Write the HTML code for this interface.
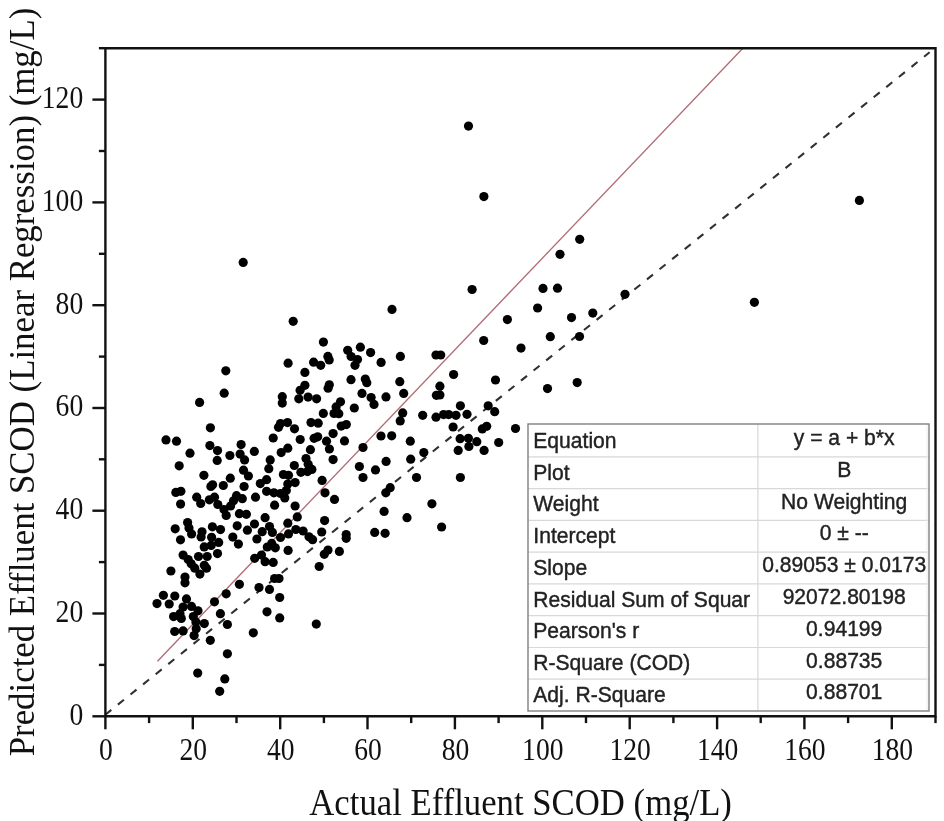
<!DOCTYPE html>
<html><head><meta charset="utf-8"><style>
html,body{margin:0;padding:0;background:#fff;width:944px;height:821px;overflow:hidden}
svg{display:block;filter:blur(0.45px)}
</style></head><body>
<svg width="944" height="821" viewBox="0 0 944 821">
<rect width="944" height="821" fill="#fff"/>
<line x1="105.3" y1="714.7" x2="929.6" y2="52.3" stroke="#303030" stroke-width="2.1" stroke-dasharray="7.7 8.46"/>
<line x1="157.5" y1="661.2" x2="742.6" y2="48.5" stroke="#b06c72" stroke-width="1.3"/>
<circle cx="468.5" cy="126.1" r="4.6"/>
<circle cx="483.9" cy="196.6" r="4.6"/>
<circle cx="859.4" cy="200.4" r="4.6"/>
<circle cx="243.2" cy="262.4" r="4.6"/>
<circle cx="579.7" cy="239.3" r="4.6"/>
<circle cx="560.0" cy="254.3" r="4.6"/>
<circle cx="472.1" cy="289.5" r="4.6"/>
<circle cx="543.0" cy="288.4" r="4.6"/>
<circle cx="557.5" cy="288.2" r="4.6"/>
<circle cx="625.0" cy="294.3" r="4.6"/>
<circle cx="754.4" cy="302.3" r="4.6"/>
<circle cx="537.6" cy="308.0" r="4.6"/>
<circle cx="507.4" cy="319.6" r="4.6"/>
<circle cx="571.5" cy="317.6" r="4.6"/>
<circle cx="592.8" cy="313.1" r="4.6"/>
<circle cx="483.7" cy="340.5" r="4.6"/>
<circle cx="550.3" cy="336.7" r="4.6"/>
<circle cx="579.5" cy="336.5" r="4.6"/>
<circle cx="521.0" cy="348.1" r="4.6"/>
<circle cx="495.5" cy="380.0" r="4.6"/>
<circle cx="547.5" cy="388.6" r="4.6"/>
<circle cx="577.2" cy="382.6" r="4.6"/>
<circle cx="392.0" cy="309.4" r="4.6"/>
<circle cx="293.2" cy="321.3" r="4.6"/>
<circle cx="288.1" cy="363.2" r="4.6"/>
<circle cx="225.8" cy="370.8" r="4.6"/>
<circle cx="224.2" cy="393.2" r="4.6"/>
<circle cx="199.6" cy="402.4" r="4.6"/>
<circle cx="282.3" cy="396.7" r="4.6"/>
<circle cx="282.3" cy="403.1" r="4.6"/>
<circle cx="323.4" cy="342.1" r="4.6"/>
<circle cx="360.4" cy="347.2" r="4.6"/>
<circle cx="347.7" cy="350.3" r="4.6"/>
<circle cx="370.6" cy="352.6" r="4.6"/>
<circle cx="327.9" cy="356.4" r="4.6"/>
<circle cx="329.2" cy="359.9" r="4.6"/>
<circle cx="351.1" cy="356.5" r="4.6"/>
<circle cx="357.5" cy="359.5" r="4.6"/>
<circle cx="313.6" cy="362.2" r="4.6"/>
<circle cx="320.7" cy="365.3" r="4.6"/>
<circle cx="355.0" cy="365.3" r="4.6"/>
<circle cx="381.1" cy="362.4" r="4.6"/>
<circle cx="400.4" cy="356.4" r="4.6"/>
<circle cx="436.0" cy="355.0" r="4.6"/>
<circle cx="440.7" cy="355.0" r="4.6"/>
<circle cx="304.9" cy="372.4" r="4.6"/>
<circle cx="453.6" cy="374.5" r="4.6"/>
<circle cx="351.0" cy="379.7" r="4.6"/>
<circle cx="365.3" cy="379.0" r="4.6"/>
<circle cx="366.8" cy="382.7" r="4.6"/>
<circle cx="399.8" cy="381.7" r="4.6"/>
<circle cx="329.3" cy="384.8" r="4.6"/>
<circle cx="328.1" cy="388.2" r="4.6"/>
<circle cx="304.9" cy="385.3" r="4.6"/>
<circle cx="300.1" cy="390.3" r="4.6"/>
<circle cx="298.8" cy="398.8" r="4.6"/>
<circle cx="308.1" cy="397.1" r="4.6"/>
<circle cx="316.6" cy="398.8" r="4.6"/>
<circle cx="439.9" cy="386.2" r="4.6"/>
<circle cx="439.9" cy="394.9" r="4.6"/>
<circle cx="436.4" cy="395.3" r="4.6"/>
<circle cx="362.0" cy="393.4" r="4.6"/>
<circle cx="403.7" cy="393.4" r="4.6"/>
<circle cx="371.1" cy="397.5" r="4.6"/>
<circle cx="386.0" cy="396.9" r="4.6"/>
<circle cx="340.5" cy="401.8" r="4.6"/>
<circle cx="210.4" cy="427.8" r="4.6"/>
<circle cx="166.0" cy="439.9" r="4.6"/>
<circle cx="176.5" cy="441.2" r="4.6"/>
<circle cx="209.9" cy="445.6" r="4.6"/>
<circle cx="217.5" cy="450.6" r="4.6"/>
<circle cx="190.0" cy="453.2" r="4.6"/>
<circle cx="217.2" cy="460.4" r="4.6"/>
<circle cx="229.9" cy="455.5" r="4.6"/>
<circle cx="241.1" cy="444.6" r="4.6"/>
<circle cx="240.1" cy="454.1" r="4.6"/>
<circle cx="244.6" cy="459.9" r="4.6"/>
<circle cx="254.3" cy="451.4" r="4.6"/>
<circle cx="179.2" cy="465.8" r="4.6"/>
<circle cx="203.9" cy="475.3" r="4.6"/>
<circle cx="243.5" cy="470.2" r="4.6"/>
<circle cx="248.4" cy="476.0" r="4.6"/>
<circle cx="230.3" cy="478.2" r="4.6"/>
<circle cx="212.6" cy="484.8" r="4.6"/>
<circle cx="210.9" cy="486.5" r="4.6"/>
<circle cx="223.3" cy="485.5" r="4.6"/>
<circle cx="244.1" cy="486.5" r="4.6"/>
<circle cx="260.3" cy="483.6" r="4.6"/>
<circle cx="175.8" cy="492.4" r="4.6"/>
<circle cx="180.9" cy="491.3" r="4.6"/>
<circle cx="180.6" cy="504.1" r="4.6"/>
<circle cx="196.7" cy="497.2" r="4.6"/>
<circle cx="200.7" cy="503.5" r="4.6"/>
<circle cx="209.4" cy="499.8" r="4.6"/>
<circle cx="214.5" cy="497.2" r="4.6"/>
<circle cx="217.8" cy="504.5" r="4.6"/>
<circle cx="224.0" cy="509.6" r="4.6"/>
<circle cx="226.2" cy="515.5" r="4.6"/>
<circle cx="230.6" cy="506.0" r="4.6"/>
<circle cx="233.5" cy="500.8" r="4.6"/>
<circle cx="236.5" cy="495.7" r="4.6"/>
<circle cx="242.3" cy="498.7" r="4.6"/>
<circle cx="255.5" cy="497.2" r="4.6"/>
<circle cx="239.4" cy="513.7" r="4.6"/>
<circle cx="246.4" cy="514.3" r="4.6"/>
<circle cx="187.6" cy="522.5" r="4.6"/>
<circle cx="336.1" cy="406.9" r="4.6"/>
<circle cx="334.0" cy="413.5" r="4.6"/>
<circle cx="338.8" cy="413.7" r="4.6"/>
<circle cx="323.3" cy="413.4" r="4.6"/>
<circle cx="354.3" cy="408.0" r="4.6"/>
<circle cx="374.0" cy="404.4" r="4.6"/>
<circle cx="280.5" cy="423.5" r="4.6"/>
<circle cx="287.5" cy="422.6" r="4.6"/>
<circle cx="278.5" cy="427.3" r="4.6"/>
<circle cx="294.5" cy="428.8" r="4.6"/>
<circle cx="311.0" cy="422.6" r="4.6"/>
<circle cx="318.2" cy="423.2" r="4.6"/>
<circle cx="341.2" cy="426.1" r="4.6"/>
<circle cx="346.3" cy="424.6" r="4.6"/>
<circle cx="273.2" cy="438.0" r="4.6"/>
<circle cx="300.2" cy="439.5" r="4.6"/>
<circle cx="314.1" cy="438.3" r="4.6"/>
<circle cx="317.7" cy="436.8" r="4.6"/>
<circle cx="333.1" cy="433.6" r="4.6"/>
<circle cx="326.5" cy="441.2" r="4.6"/>
<circle cx="344.5" cy="440.9" r="4.6"/>
<circle cx="381.0" cy="436.0" r="4.6"/>
<circle cx="287.8" cy="448.2" r="4.6"/>
<circle cx="281.2" cy="452.6" r="4.6"/>
<circle cx="310.4" cy="449.7" r="4.6"/>
<circle cx="329.4" cy="449.0" r="4.6"/>
<circle cx="333.1" cy="459.6" r="4.6"/>
<circle cx="363.0" cy="447.5" r="4.6"/>
<circle cx="270.2" cy="459.9" r="4.6"/>
<circle cx="306.0" cy="458.5" r="4.6"/>
<circle cx="268.8" cy="468.7" r="4.6"/>
<circle cx="294.3" cy="465.5" r="4.6"/>
<circle cx="308.2" cy="464.3" r="4.6"/>
<circle cx="311.9" cy="469.4" r="4.6"/>
<circle cx="300.9" cy="472.3" r="4.6"/>
<circle cx="307.5" cy="471.6" r="4.6"/>
<circle cx="359.4" cy="466.5" r="4.6"/>
<circle cx="375.5" cy="469.9" r="4.6"/>
<circle cx="363.0" cy="477.5" r="4.6"/>
<circle cx="283.4" cy="474.5" r="4.6"/>
<circle cx="288.5" cy="475.3" r="4.6"/>
<circle cx="266.6" cy="479.7" r="4.6"/>
<circle cx="295.1" cy="482.6" r="4.6"/>
<circle cx="287.8" cy="484.0" r="4.6"/>
<circle cx="322.1" cy="480.4" r="4.6"/>
<circle cx="266.6" cy="491.3" r="4.6"/>
<circle cx="273.9" cy="492.8" r="4.6"/>
<circle cx="280.5" cy="493.5" r="4.6"/>
<circle cx="286.3" cy="490.6" r="4.6"/>
<circle cx="284.8" cy="497.9" r="4.6"/>
<circle cx="325.0" cy="492.8" r="4.6"/>
<circle cx="334.5" cy="499.4" r="4.6"/>
<circle cx="274.6" cy="505.2" r="4.6"/>
<circle cx="295.1" cy="506.0" r="4.6"/>
<circle cx="297.3" cy="516.9" r="4.6"/>
<circle cx="265.1" cy="517.7" r="4.6"/>
<circle cx="324.6" cy="520.6" r="4.6"/>
<circle cx="402.7" cy="412.9" r="4.6"/>
<circle cx="400.2" cy="420.9" r="4.6"/>
<circle cx="422.7" cy="415.3" r="4.6"/>
<circle cx="436.0" cy="417.2" r="4.6"/>
<circle cx="443.6" cy="414.6" r="4.6"/>
<circle cx="448.7" cy="414.6" r="4.6"/>
<circle cx="456.0" cy="415.3" r="4.6"/>
<circle cx="460.4" cy="405.8" r="4.6"/>
<circle cx="467.0" cy="414.3" r="4.6"/>
<circle cx="488.2" cy="405.8" r="4.6"/>
<circle cx="494.7" cy="411.7" r="4.6"/>
<circle cx="453.1" cy="427.0" r="4.6"/>
<circle cx="482.3" cy="428.9" r="4.6"/>
<circle cx="486.7" cy="426.3" r="4.6"/>
<circle cx="391.7" cy="435.8" r="4.6"/>
<circle cx="410.3" cy="441.2" r="4.6"/>
<circle cx="460.1" cy="438.7" r="4.6"/>
<circle cx="468.4" cy="438.3" r="4.6"/>
<circle cx="468.9" cy="446.5" r="4.6"/>
<circle cx="476.8" cy="441.7" r="4.6"/>
<circle cx="458.2" cy="450.4" r="4.6"/>
<circle cx="484.1" cy="450.4" r="4.6"/>
<circle cx="498.7" cy="442.5" r="4.6"/>
<circle cx="423.8" cy="452.6" r="4.6"/>
<circle cx="386.1" cy="461.4" r="4.6"/>
<circle cx="410.7" cy="459.2" r="4.6"/>
<circle cx="416.5" cy="477.5" r="4.6"/>
<circle cx="460.4" cy="477.5" r="4.6"/>
<circle cx="390.2" cy="487.7" r="4.6"/>
<circle cx="385.8" cy="492.8" r="4.6"/>
<circle cx="431.9" cy="503.8" r="4.6"/>
<circle cx="384.1" cy="511.4" r="4.6"/>
<circle cx="407.0" cy="517.7" r="4.6"/>
<circle cx="515.5" cy="428.5" r="4.6"/>
<circle cx="441.6" cy="527.0" r="4.6"/>
<circle cx="385.1" cy="533.3" r="4.6"/>
<circle cx="175.2" cy="528.8" r="4.6"/>
<circle cx="189.0" cy="528.0" r="4.6"/>
<circle cx="191.6" cy="534.0" r="4.6"/>
<circle cx="202.0" cy="531.8" r="4.6"/>
<circle cx="201.1" cy="536.9" r="4.6"/>
<circle cx="212.4" cy="526.8" r="4.6"/>
<circle cx="220.5" cy="529.6" r="4.6"/>
<circle cx="211.6" cy="537.3" r="4.6"/>
<circle cx="218.7" cy="542.4" r="4.6"/>
<circle cx="180.5" cy="539.8" r="4.6"/>
<circle cx="204.2" cy="546.9" r="4.6"/>
<circle cx="211.2" cy="545.4" r="4.6"/>
<circle cx="217.5" cy="553.6" r="4.6"/>
<circle cx="237.2" cy="525.8" r="4.6"/>
<circle cx="247.4" cy="530.2" r="4.6"/>
<circle cx="254.5" cy="524.0" r="4.6"/>
<circle cx="256.9" cy="539.0" r="4.6"/>
<circle cx="232.8" cy="537.1" r="4.6"/>
<circle cx="238.4" cy="544.1" r="4.6"/>
<circle cx="183.1" cy="555.1" r="4.6"/>
<circle cx="188.2" cy="559.5" r="4.6"/>
<circle cx="198.5" cy="556.5" r="4.6"/>
<circle cx="207.2" cy="556.5" r="4.6"/>
<circle cx="191.2" cy="563.8" r="4.6"/>
<circle cx="194.8" cy="568.2" r="4.6"/>
<circle cx="204.3" cy="565.3" r="4.6"/>
<circle cx="199.9" cy="574.1" r="4.6"/>
<circle cx="206.5" cy="568.2" r="4.6"/>
<circle cx="170.9" cy="571.0" r="4.6"/>
<circle cx="185.0" cy="577.0" r="4.6"/>
<circle cx="185.0" cy="582.8" r="4.6"/>
<circle cx="254.7" cy="558.3" r="4.6"/>
<circle cx="239.4" cy="584.3" r="4.6"/>
<circle cx="259.0" cy="587.5" r="4.6"/>
<circle cx="226.2" cy="593.8" r="4.6"/>
<circle cx="214.5" cy="601.8" r="4.6"/>
<circle cx="163.4" cy="595.3" r="4.6"/>
<circle cx="157.0" cy="603.6" r="4.6"/>
<circle cx="169.2" cy="604.0" r="4.6"/>
<circle cx="174.8" cy="596.0" r="4.6"/>
<circle cx="186.5" cy="598.9" r="4.6"/>
<circle cx="183.1" cy="607.0" r="4.6"/>
<circle cx="191.5" cy="606.4" r="4.6"/>
<circle cx="198.0" cy="610.8" r="4.6"/>
<circle cx="173.6" cy="616.6" r="4.6"/>
<circle cx="180.0" cy="613.7" r="4.6"/>
<circle cx="181.3" cy="618.5" r="4.6"/>
<circle cx="193.3" cy="616.6" r="4.6"/>
<circle cx="195.9" cy="622.1" r="4.6"/>
<circle cx="204.3" cy="623.6" r="4.6"/>
<circle cx="220.4" cy="613.7" r="4.6"/>
<circle cx="227.4" cy="624.5" r="4.6"/>
<circle cx="174.7" cy="631.5" r="4.6"/>
<circle cx="183.1" cy="630.9" r="4.6"/>
<circle cx="196.2" cy="628.7" r="4.6"/>
<circle cx="194.1" cy="635.6" r="4.6"/>
<circle cx="210.3" cy="640.3" r="4.6"/>
<circle cx="253.3" cy="632.8" r="4.6"/>
<circle cx="227.4" cy="653.8" r="4.6"/>
<circle cx="197.7" cy="673.1" r="4.6"/>
<circle cx="224.8" cy="678.9" r="4.6"/>
<circle cx="219.7" cy="691.3" r="4.6"/>
<circle cx="269.5" cy="526.6" r="4.6"/>
<circle cx="272.4" cy="532.4" r="4.6"/>
<circle cx="262.2" cy="531.7" r="4.6"/>
<circle cx="287.8" cy="523.2" r="4.6"/>
<circle cx="295.8" cy="529.5" r="4.6"/>
<circle cx="303.1" cy="531.0" r="4.6"/>
<circle cx="288.5" cy="533.9" r="4.6"/>
<circle cx="280.5" cy="537.5" r="4.6"/>
<circle cx="309.0" cy="536.8" r="4.6"/>
<circle cx="312.6" cy="539.7" r="4.6"/>
<circle cx="321.7" cy="532.0" r="4.6"/>
<circle cx="346.2" cy="534.6" r="4.6"/>
<circle cx="346.2" cy="538.3" r="4.6"/>
<circle cx="374.7" cy="532.4" r="4.6"/>
<circle cx="271.7" cy="543.4" r="4.6"/>
<circle cx="267.3" cy="547.0" r="4.6"/>
<circle cx="275.3" cy="547.8" r="4.6"/>
<circle cx="288.1" cy="550.4" r="4.6"/>
<circle cx="328.0" cy="550.0" r="4.6"/>
<circle cx="324.3" cy="554.3" r="4.6"/>
<circle cx="339.4" cy="551.4" r="4.6"/>
<circle cx="261.5" cy="555.1" r="4.6"/>
<circle cx="265.1" cy="561.7" r="4.6"/>
<circle cx="273.2" cy="562.4" r="4.6"/>
<circle cx="319.2" cy="566.5" r="4.6"/>
<circle cx="274.6" cy="578.5" r="4.6"/>
<circle cx="279.0" cy="578.5" r="4.6"/>
<circle cx="269.5" cy="589.4" r="4.6"/>
<circle cx="279.7" cy="597.5" r="4.6"/>
<circle cx="267.0" cy="611.8" r="4.6"/>
<circle cx="279.7" cy="617.9" r="4.6"/>
<circle cx="316.3" cy="624.1" r="4.6"/>
<rect x="528" y="424" width="401" height="287" fill="#fff"/>
<line x1="528" y1="456.9" x2="929" y2="456.9" stroke="#d8d8d8" stroke-width="1.2"/>
<line x1="528" y1="488.7" x2="929" y2="488.7" stroke="#d8d8d8" stroke-width="1.2"/>
<line x1="528" y1="520.4" x2="929" y2="520.4" stroke="#d8d8d8" stroke-width="1.2"/>
<line x1="528" y1="552.2" x2="929" y2="552.2" stroke="#d8d8d8" stroke-width="1.2"/>
<line x1="528" y1="583.9" x2="929" y2="583.9" stroke="#d8d8d8" stroke-width="1.2"/>
<line x1="528" y1="615.7" x2="929" y2="615.7" stroke="#d8d8d8" stroke-width="1.2"/>
<line x1="528" y1="647.5" x2="929" y2="647.5" stroke="#d8d8d8" stroke-width="1.2"/>
<line x1="528" y1="679.2" x2="929" y2="679.2" stroke="#d8d8d8" stroke-width="1.2"/>
<line x1="757.9" y1="424" x2="757.9" y2="711" stroke="#d8d8d8" stroke-width="1.2"/>
<line x1="927" y1="424" x2="927" y2="711" stroke="#ececec" stroke-width="1"/>
<rect x="528" y="424" width="401" height="287" fill="none" stroke="#808080" stroke-width="1.4"/>
<text transform="translate(533.3,447.90) scale(1,1.045)" font-family="Liberation Sans" font-size="21.1" fill="#222" stroke="#222" stroke-width="0.4">Equation</text>
<text transform="translate(844.2,445.20) scale(1,1.045)" font-family="Liberation Sans" font-size="21.1" fill="#222" stroke="#222" stroke-width="0.4" text-anchor="middle">y = a + b*x</text>
<text transform="translate(533.3,479.66) scale(1,1.045)" font-family="Liberation Sans" font-size="21.1" fill="#222" stroke="#222" stroke-width="0.4">Plot</text>
<text transform="translate(844.2,476.96) scale(1,1.045)" font-family="Liberation Sans" font-size="21.1" fill="#222" stroke="#222" stroke-width="0.4" text-anchor="middle">B</text>
<text transform="translate(533.3,511.42) scale(1,1.045)" font-family="Liberation Sans" font-size="21.1" fill="#222" stroke="#222" stroke-width="0.4">Weight</text>
<text transform="translate(844.2,508.72) scale(1,1.045)" font-family="Liberation Sans" font-size="21.1" fill="#222" stroke="#222" stroke-width="0.4" text-anchor="middle">No Weighting</text>
<text transform="translate(533.3,543.18) scale(1,1.045)" font-family="Liberation Sans" font-size="21.1" fill="#222" stroke="#222" stroke-width="0.4">Intercept</text>
<text transform="translate(844.2,540.48) scale(1,1.045)" font-family="Liberation Sans" font-size="21.1" fill="#222" stroke="#222" stroke-width="0.4" text-anchor="middle">0 ± --</text>
<text transform="translate(533.3,574.94) scale(1,1.045)" font-family="Liberation Sans" font-size="21.1" fill="#222" stroke="#222" stroke-width="0.4">Slope</text>
<text transform="translate(844.2,572.24) scale(1,1.045)" font-family="Liberation Sans" font-size="21.1" fill="#222" stroke="#222" stroke-width="0.4" text-anchor="middle">0.89053 ± 0.0173</text>
<text transform="translate(533.3,606.70) scale(1,1.045)" font-family="Liberation Sans" font-size="21.1" fill="#222" stroke="#222" stroke-width="0.4">Residual Sum of Squar</text>
<text transform="translate(844.2,604.00) scale(1,1.045)" font-family="Liberation Sans" font-size="21.1" fill="#222" stroke="#222" stroke-width="0.4" text-anchor="middle">92072.80198</text>
<text transform="translate(533.3,638.46) scale(1,1.045)" font-family="Liberation Sans" font-size="21.1" fill="#222" stroke="#222" stroke-width="0.4">Pearson's r</text>
<text transform="translate(844.2,635.76) scale(1,1.045)" font-family="Liberation Sans" font-size="21.1" fill="#222" stroke="#222" stroke-width="0.4" text-anchor="middle">0.94199</text>
<text transform="translate(533.3,670.22) scale(1,1.045)" font-family="Liberation Sans" font-size="21.1" fill="#222" stroke="#222" stroke-width="0.4">R-Square (COD)</text>
<text transform="translate(844.2,667.52) scale(1,1.045)" font-family="Liberation Sans" font-size="21.1" fill="#222" stroke="#222" stroke-width="0.4" text-anchor="middle">0.88735</text>
<text transform="translate(533.3,702.00) scale(1,1.045)" font-family="Liberation Sans" font-size="21.1" fill="#222" stroke="#222" stroke-width="0.4">Adj. R-Square</text>
<text transform="translate(844.2,699.30) scale(1,1.045)" font-family="Liberation Sans" font-size="21.1" fill="#222" stroke="#222" stroke-width="0.4" text-anchor="middle">0.88701</text>
<path d="M105.4 48.229999999999905 H935.5099999999999 V716.3 H105.4 Z" fill="none" stroke="#111" stroke-width="2.4" stroke-linejoin="miter"/>
<line x1="92.4" y1="716.3" x2="105.4" y2="716.3" stroke="#111" stroke-width="2.4"/>
<line x1="98.9" y1="664.9" x2="105.4" y2="664.9" stroke="#111" stroke-width="2.4"/>
<line x1="92.4" y1="613.5" x2="105.4" y2="613.5" stroke="#111" stroke-width="2.4"/>
<line x1="98.9" y1="562.1" x2="105.4" y2="562.1" stroke="#111" stroke-width="2.4"/>
<line x1="92.4" y1="510.7" x2="105.4" y2="510.7" stroke="#111" stroke-width="2.4"/>
<line x1="98.9" y1="459.3" x2="105.4" y2="459.3" stroke="#111" stroke-width="2.4"/>
<line x1="92.4" y1="408.0" x2="105.4" y2="408.0" stroke="#111" stroke-width="2.4"/>
<line x1="98.9" y1="356.6" x2="105.4" y2="356.6" stroke="#111" stroke-width="2.4"/>
<line x1="92.4" y1="305.2" x2="105.4" y2="305.2" stroke="#111" stroke-width="2.4"/>
<line x1="98.9" y1="253.8" x2="105.4" y2="253.8" stroke="#111" stroke-width="2.4"/>
<line x1="92.4" y1="202.4" x2="105.4" y2="202.4" stroke="#111" stroke-width="2.4"/>
<line x1="98.9" y1="151.0" x2="105.4" y2="151.0" stroke="#111" stroke-width="2.4"/>
<line x1="92.4" y1="99.6" x2="105.4" y2="99.6" stroke="#111" stroke-width="2.4"/>
<line x1="98.9" y1="48.2" x2="105.4" y2="48.2" stroke="#111" stroke-width="2.4"/>
<line x1="105.4" y1="716.3" x2="105.4" y2="729.3" stroke="#111" stroke-width="2.4"/>
<line x1="149.1" y1="716.3" x2="149.1" y2="723.0999999999999" stroke="#111" stroke-width="2.4"/>
<line x1="192.8" y1="716.3" x2="192.8" y2="729.3" stroke="#111" stroke-width="2.4"/>
<line x1="236.5" y1="716.3" x2="236.5" y2="723.0999999999999" stroke="#111" stroke-width="2.4"/>
<line x1="280.2" y1="716.3" x2="280.2" y2="729.3" stroke="#111" stroke-width="2.4"/>
<line x1="323.9" y1="716.3" x2="323.9" y2="723.0999999999999" stroke="#111" stroke-width="2.4"/>
<line x1="367.5" y1="716.3" x2="367.5" y2="729.3" stroke="#111" stroke-width="2.4"/>
<line x1="411.2" y1="716.3" x2="411.2" y2="723.0999999999999" stroke="#111" stroke-width="2.4"/>
<line x1="454.9" y1="716.3" x2="454.9" y2="729.3" stroke="#111" stroke-width="2.4"/>
<line x1="498.6" y1="716.3" x2="498.6" y2="723.0999999999999" stroke="#111" stroke-width="2.4"/>
<line x1="542.3" y1="716.3" x2="542.3" y2="729.3" stroke="#111" stroke-width="2.4"/>
<line x1="586.0" y1="716.3" x2="586.0" y2="723.0999999999999" stroke="#111" stroke-width="2.4"/>
<line x1="629.7" y1="716.3" x2="629.7" y2="729.3" stroke="#111" stroke-width="2.4"/>
<line x1="673.4" y1="716.3" x2="673.4" y2="723.0999999999999" stroke="#111" stroke-width="2.4"/>
<line x1="717.1" y1="716.3" x2="717.1" y2="729.3" stroke="#111" stroke-width="2.4"/>
<line x1="760.7" y1="716.3" x2="760.7" y2="723.0999999999999" stroke="#111" stroke-width="2.4"/>
<line x1="804.4" y1="716.3" x2="804.4" y2="729.3" stroke="#111" stroke-width="2.4"/>
<line x1="848.1" y1="716.3" x2="848.1" y2="723.0999999999999" stroke="#111" stroke-width="2.4"/>
<line x1="891.8" y1="716.3" x2="891.8" y2="729.3" stroke="#111" stroke-width="2.4"/>
<line x1="935.5" y1="716.3" x2="935.5" y2="723.0999999999999" stroke="#111" stroke-width="2.4"/>
<text transform="translate(83.2,724.80) scale(1,1.125)" font-family="Liberation Serif" font-size="27.6" fill="#111" text-anchor="end">0</text>
<text transform="translate(83.2,622.02) scale(1,1.125)" font-family="Liberation Serif" font-size="27.6" fill="#111" text-anchor="end">20</text>
<text transform="translate(83.2,519.24) scale(1,1.125)" font-family="Liberation Serif" font-size="27.6" fill="#111" text-anchor="end">40</text>
<text transform="translate(83.2,416.46) scale(1,1.125)" font-family="Liberation Serif" font-size="27.6" fill="#111" text-anchor="end">60</text>
<text transform="translate(83.2,313.68) scale(1,1.125)" font-family="Liberation Serif" font-size="27.6" fill="#111" text-anchor="end">80</text>
<text transform="translate(83.2,210.90) scale(1,1.125)" font-family="Liberation Serif" font-size="27.6" fill="#111" text-anchor="end">100</text>
<text transform="translate(83.2,108.12) scale(1,1.125)" font-family="Liberation Serif" font-size="27.6" fill="#111" text-anchor="end">120</text>
<text transform="translate(105.90,760.2) scale(1,1.125)" font-family="Liberation Serif" font-size="27.6" fill="#111" text-anchor="middle">0</text>
<text transform="translate(193.28,760.2) scale(1,1.125)" font-family="Liberation Serif" font-size="27.6" fill="#111" text-anchor="middle">20</text>
<text transform="translate(280.66,760.2) scale(1,1.125)" font-family="Liberation Serif" font-size="27.6" fill="#111" text-anchor="middle">40</text>
<text transform="translate(368.04,760.2) scale(1,1.125)" font-family="Liberation Serif" font-size="27.6" fill="#111" text-anchor="middle">60</text>
<text transform="translate(455.42,760.2) scale(1,1.125)" font-family="Liberation Serif" font-size="27.6" fill="#111" text-anchor="middle">80</text>
<text transform="translate(542.80,760.2) scale(1,1.125)" font-family="Liberation Serif" font-size="27.6" fill="#111" text-anchor="middle">100</text>
<text transform="translate(630.18,760.2) scale(1,1.125)" font-family="Liberation Serif" font-size="27.6" fill="#111" text-anchor="middle">120</text>
<text transform="translate(717.56,760.2) scale(1,1.125)" font-family="Liberation Serif" font-size="27.6" fill="#111" text-anchor="middle">140</text>
<text transform="translate(804.94,760.2) scale(1,1.125)" font-family="Liberation Serif" font-size="27.6" fill="#111" text-anchor="middle">160</text>
<text transform="translate(892.32,760.2) scale(1,1.125)" font-family="Liberation Serif" font-size="27.6" fill="#111" text-anchor="middle">180</text>
<text transform="translate(309.3,814.8) scale(1,1.065)" font-family="Liberation Serif" font-size="34.72" fill="#111">Actual Effluent SCOD (mg/L)</text>
<text transform="translate(33.8,756.3) rotate(-90) scale(1,1.055)" font-family="Liberation Serif" font-size="34.82" fill="#111">Predicted Effluent SCOD (Linear Regression) (mg/L)</text>
</svg>
</body></html>
